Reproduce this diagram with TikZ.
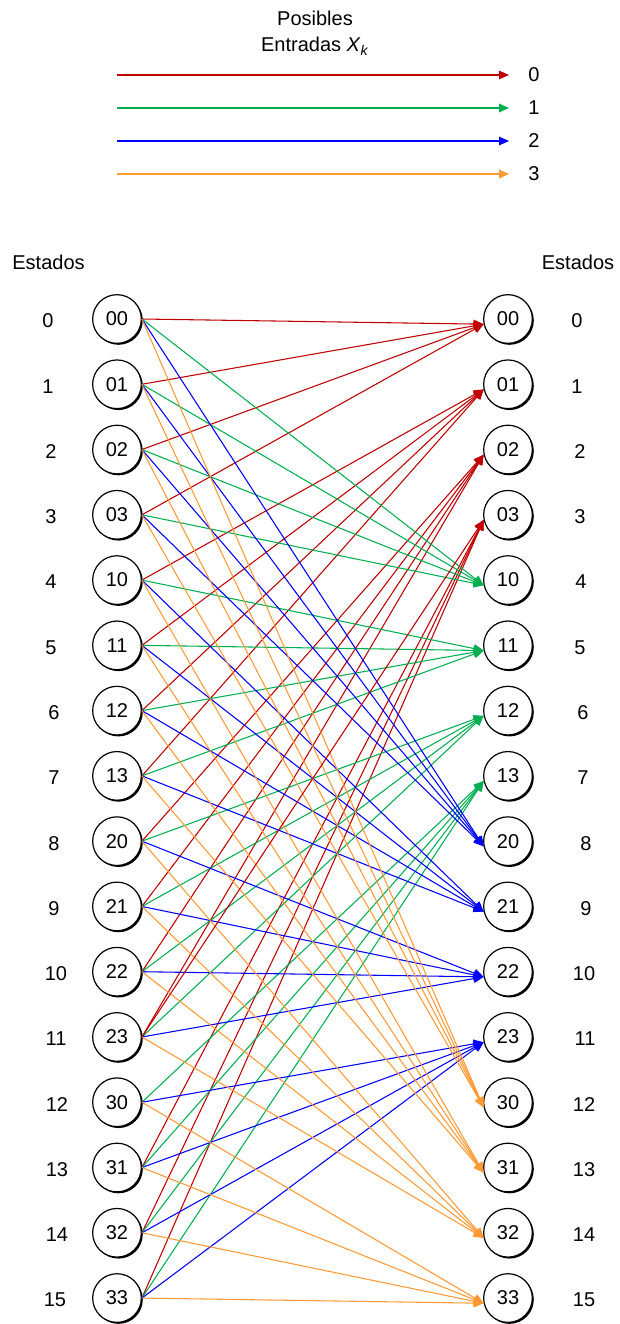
\documentclass[tikz,border=0pt]{standalone}
\usepackage{fontspec}
\setmainfont{Liberation Sans}
\usetikzlibrary{arrows.meta,shadows}

\definecolor{in0}{RGB}{192,0,0}
\definecolor{in1}{RGB}{0,176,80}
\definecolor{in2}{RGB}{0,0,255}
\definecolor{in3}{RGB}{255,153,51}

\tikzset{
	estado/.style={circle, draw, line width=0.9pt, fill=white, inner sep=0pt, minimum size=36.5pt,
		drop shadow={shadow xshift=1.1pt, shadow yshift=-1.1pt, fill=black, opacity=1}},
	trans/.style={line width=0.8pt, -{Triangle[length=7.5pt, width=6.5pt]}},
	etiq/.style={font=\fontsize{15}{18}\selectfont}
}

\begin{document}
\begin{tikzpicture}[x=0.75pt, y=-0.75pt, etiq]
	\useasboundingbox (0,0) rectangle (619,1324);
	% leyenda de entradas
	\node[align=center, font=\fontsize{15}{19.5}\selectfont] (titulo) at (315,33) {Posibles\\Entradas \textit{X}\textsubscript{\textit{k}}};
	\foreach \x in {0,...,3} {
		\coordinate (la\x) at (117,{75+33*\x});
		\coordinate (lb\x) at (509,{75+33*\x});
		\draw[trans, in\x] (la\x) -- (lb\x);
		\node (k\x) at (534,{75+33*\x}) {\x};
	}
	\node (estl) at (48.5,262) {Estados};
	\node (estr) at (578,262) {Estados};
	% estados
	\foreach \a in {0,...,3} \foreach \b in {0,...,3} {
		\pgfmathtruncatemacro\i{4*\a+\b}
		\node[estado] (l\a\b) at (117,{319+65.27*\i}) {\a\b};
		\node[estado] (r\a\b) at (508,{319+65.27*\i}) {\a\b};
	}
	\foreach \i/\xl/\xr in {0/48/577, 1/48/577, 2/51/580, 3/51/580, 4/51/581, 5/51/580, 6/54/583, 7/54/583,
		8/54/586, 9/54/586, 10/56/584, 11/56/585, 12/57/584, 13/57/584, 14/57/584, 15/55/584} {
		\node (nl\i) at (\xl,{321+65.27*\i}) {\i};
		\node (nr\i) at (\xr,{321+65.27*\i}) {\i};
	}
	% transiciones: (a,b) con entrada x pasa a (x,a)
	% (la roja hacia 03 sale de 23, no de 30)
	\foreach \x in {0,...,3} \foreach \a in {0,...,3} \foreach \b in {0,...,3} {
		\ifnum\x\a\b=30 \else
			\draw[trans, in\x] (l\a\b.east) -- (r\x\a.192);
		\fi
	}
	\draw[trans, in0] (l23.east) -- (r03.192);
\end{tikzpicture}
\end{document}
